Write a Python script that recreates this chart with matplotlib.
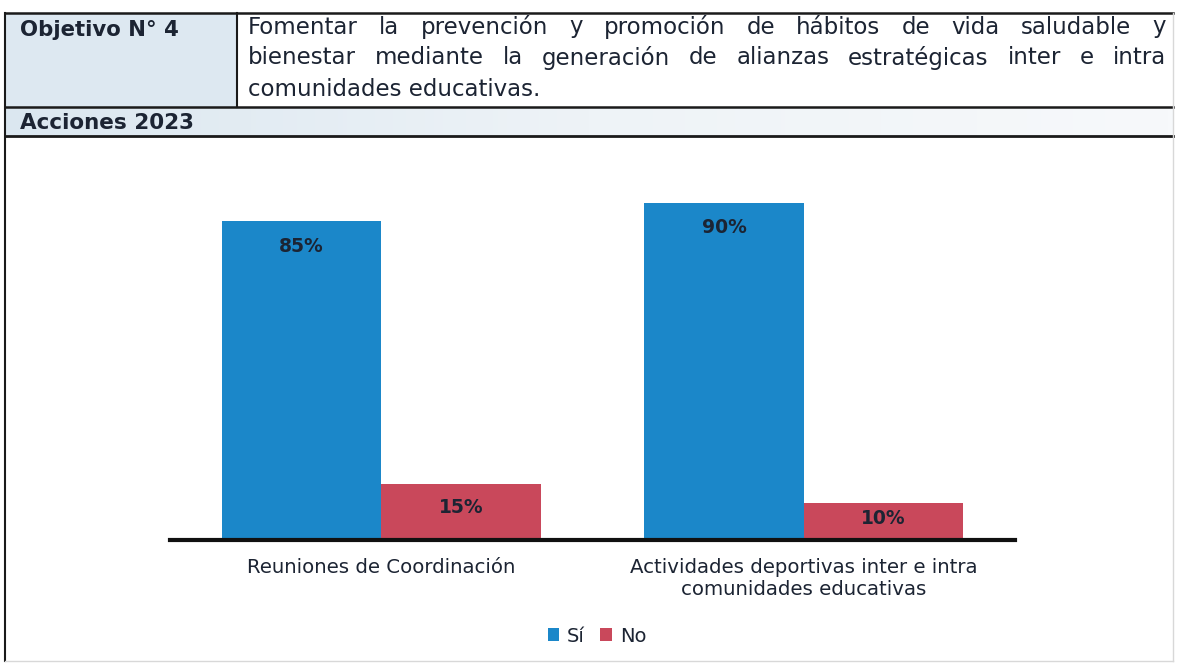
import matplotlib
matplotlib.use("Agg")
import matplotlib.pyplot as plt
import numpy as np
from matplotlib.patches import Rectangle

categories = ["Reuniones de Coordinación", "Actividades deportivas inter e intra\ncomunidades educativas"]
series_names = ["Sí", "No"]
si_values = [85, 90]
no_values = [15, 10]
header_label = "Objetivo N° 4"
header_lines = [
    "Fomentar la prevención y promoción de hábitos de vida saludable y",
    "bienestar mediante la generación de alianzas estratégicas inter e intra",
    "comunidades educativas.",
]
section_label = "Acciones 2023"

BLUE = "#1b87c9"
RED = "#c9485b"
TXT = "#1c2433"
FONT = "DejaVu Sans"

W, H = 1177, 664
fig = plt.figure(figsize=(W / 100, H / 100), dpi=100)
fig.patch.set_facecolor("white")

ov = fig.add_axes([0, 0, 1, 1])
ov.set_xlim(0, W)
ov.set_ylim(H, 0)
ov.axis("off")

L, R, T, B = 5, 1173, 13, 661
row1 = 107
row2 = 136
colx = 237

grad = np.linspace(0, 1, 256).reshape(1, -1)
ov.add_patch(Rectangle((L, T), colx - L, row1 - T, facecolor="#dde8f1", edgecolor="none", zorder=0))
ov.imshow(grad, extent=(L, R, row2, row1), cmap=matplotlib.colors.LinearSegmentedColormap.from_list(
    "g", ["#dbe7f0", "#eef3f7", "#f7f9fb"]), aspect="auto", zorder=0)
ov.set_xlim(0, W)
ov.set_ylim(H, 0)

lc = "#1a1a1a"
ov.plot([L, R], [T, T], color=lc, lw=1.8, zorder=3)
ov.plot([L, R], [row1, row1], color=lc, lw=1.8, zorder=3)
ov.plot([L, R], [row2, row2], color=lc, lw=2.0, zorder=3)
ov.plot([L, L], [T, B], color=lc, lw=1.5, zorder=3)
ov.plot([R, R], [T, B], color="#d8d8d8", lw=1.0, zorder=3)
ov.plot([L, R], [B, B], color="#d8d8d8", lw=1.0, zorder=3)
ov.plot([colx, colx], [T, row1], color=lc, lw=1.5, zorder=3)

ov.text(20, 30, header_label, fontsize=15.3, fontweight="bold", color=TXT, family=FONT,
        va="center", ha="left")
ov.text(20, 123, section_label, fontsize=15.5, fontweight="bold", color=TXT, family=FONT,
        va="center", ha="left")

fig.canvas.draw()
renderer = fig.canvas.get_renderer()
x0, x1 = 248, 1166
line_y = [27, 58, 89]
fs_body = 16.5

def text_width(s):
    t = ov.text(0, 0, s, fontsize=fs_body, family=FONT)
    w = t.get_window_extent(renderer=renderer).width
    t.remove()
    return w

for i, line in enumerate(header_lines):
    words = line.split(" ")
    if i < len(header_lines) - 1:
        widths = [text_width(w) for w in words]
        gap = (x1 - x0 - sum(widths)) / (len(words) - 1)
        x = x0
        for w, wd in zip(words, widths):
            ov.text(x, line_y[i], w, fontsize=fs_body, family=FONT, color=TXT, va="center", ha="left")
            x += wd + gap
    else:
        ov.text(x0, line_y[i], line, fontsize=fs_body, family=FONT, color=TXT, va="center", ha="left")

ax_left, ax_right = 170 / W, 1015 / W
ax_bottom, ax_top = (H - 540) / H, (H - 165) / H
ax = fig.add_axes([ax_left, ax_bottom, ax_right - ax_left, ax_top - ax_bottom])
ax.set_facecolor("none")
x = np.arange(len(categories))
bw = 0.377
b1 = ax.bar(x - bw / 2, si_values, bw, color=BLUE, label=series_names[0], zorder=2)
b2 = ax.bar(x + bw / 2, no_values, bw, color=RED, label=series_names[1], zorder=2)
ax.set_xlim(-0.5, 1.5)
ax.set_ylim(0, 100)
for s in ["top", "right", "left"]:
    ax.spines[s].set_visible(False)
ax.spines["bottom"].set_linewidth(3)
ax.spines["bottom"].set_color("#111111")
ax.set_yticks([])
ax.set_xticks(x)
ax.set_xticklabels(categories, fontsize=14.2, family=FONT, color=TXT, linespacing=1.2)
ax.tick_params(axis="x", length=0, pad=13)

px_per_unit = (540 - 165) / 100.0
for bars in (b1, b2):
    for rect in bars:
        h = rect.get_height()
        off_px = min(25.0, 0.42 * h * px_per_unit)
        ax.annotate(f"{h:.0f}%", (rect.get_x() + rect.get_width() / 2, h),
                    xytext=(0, -off_px * 0.72), textcoords="offset points", ha="center", va="center",
                    fontsize=13.5, fontweight="bold", color=TXT, family=FONT)

leg = fig.legend(handles=[b1, b2], labels=series_names, loc="center",
                 bbox_to_anchor=(597 / W, (H - 636) / H), ncol=2, frameon=False,
                 prop={"family": FONT, "size": 14}, handlelength=0.6, handleheight=0.6,
                 handletextpad=0.4, columnspacing=0.8)
for t in leg.get_texts():
    t.set_color(TXT)

fig.savefig("out.png", dpi=100, facecolor="white")
